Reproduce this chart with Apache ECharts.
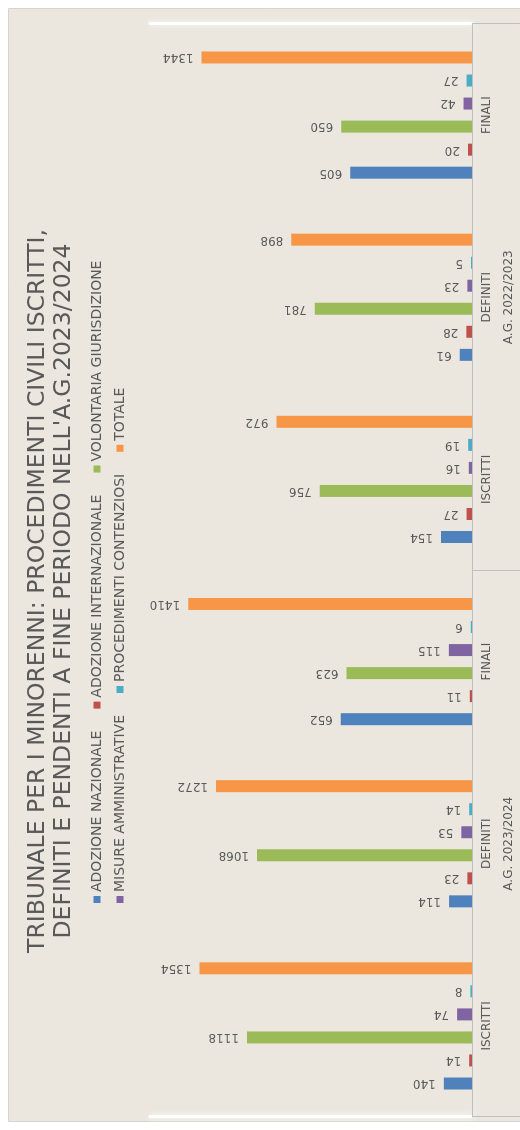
<!DOCTYPE html>
<html>
<head>
<meta charset="utf-8">
<script src="https://cdn.jsdelivr.net/npm/echarts@6/dist/echarts.min.js"></script>
<style>
  html, body { margin: 0; padding: 0; background: #ffffff; }
  #wrap { position: absolute; left: 0; top: 0; width: 520px; height: 1130px; overflow: hidden; }
  /* the chart is drawn upright (1130 x 520) and turned a quarter to the left */
  #chart { position: absolute; left: 0; top: 0; width: 1130px; height: 520px;
           transform-origin: 0 0; transform: translate(0, 1130px) rotate(-90deg); }
</style>
</head>
<body>
<div id="wrap"><div id="chart"></div></div>
<script>
const categories = ['ISCRITTI', 'DEFINITI', 'FINALI', 'ISCRITTI', 'DEFINITI', 'FINALI']
const years = ['A.G. 2023/2024', 'A.G. 2022/2023']
const seriesNames = [
  'ADOZIONE NAZIONALE', 'ADOZIONE INTERNAZIONALE', 'VOLONTARIA GIURISDIZIONE',
  'MISURE AMMINISTRATIVE', 'PROCEDIMENTI CONTENZIOSI', 'TOTALE'
]
const adozioneNazionale = [140, 114, 652, 154, 61, 605]
const adozioneInternazionale = [14, 23, 11, 27, 28, 20]
const volontariaGiurisdizione = [1118, 1068, 623, 756, 781, 650]
const misureAmministrative = [74, 53, 115, 16, 23, 42]
const procedimentiContenziosi = [8, 14, 6, 19, 5, 27]
const totale = [1354, 1272, 1410, 972, 898, 1344]
const seriesValues = [adozioneNazionale, adozioneInternazionale, volontariaGiurisdizione,
  misureAmministrative, procedimentiContenziosi, totale]
const seriesColors = ['#4f81bd', '#c0504d', '#9bbb59', '#8064a2', '#4bacc6', '#f79646']

const textColor = '#595959'
const font = 'DejaVu Sans'

const chart = echarts.init(document.getElementById('chart'), null, { renderer: 'canvas' })

const glowLine = {
  show: true,
  lineStyle: { color: 'rgba(255,255,255,0.95)', width: 3, shadowColor: '#ffffff', shadowBlur: 6 }
}

const legendBase = {
  left: 222, itemGap: 22, icon: 'rect', itemWidth: 7, itemHeight: 7,
  textStyle: { fontFamily: font, fontSize: 14, color: textColor, padding: [0, 0, 0, -1] }
}

const option = {
  backgroundColor: '#ffffff',
  animation: false,
  graphic: [{
    type: 'rect', z: -10, silent: true,
    shape: { x: 8.5, y: 8.5, width: 1113, height: 520 },
    style: { fill: '#ebe7df', stroke: '#d4d4d4', lineWidth: 1 }
  }],
  title: {
    text: 'TRIBUNALE PER I MINORENNI: PROCEDIMENTI CIVILI ISCRITTI,\nDEFINITI E PENDENTI A FINE PERIODO NELL\'A.G.2023/2024',
    left: 534, top: 20, textAlign: 'center',
    textStyle: { fontFamily: font, fontSize: 23.5, fontWeight: 'normal', color: textColor, lineHeight: 26 }
  },
  legend: [
    Object.assign({ data: seriesNames.slice(0, 3), top: 85 }, legendBase),
    Object.assign({ data: seriesNames.slice(3), top: 108 }, legendBase)
  ],
  grid: { left: 13, right: 24, top: 150, bottom: 48 },
  xAxis: [
    {
      type: 'category', data: categories, position: 'bottom',
      axisLine: { lineStyle: { color: '#bfbfbf', shadowColor: '#ffffff', shadowBlur: 6, shadowOffsetY: 3 } },
      axisTick: { show: false },
      axisLabel: { fontFamily: font, fontSize: 12, color: textColor, margin: 9 }
    },
    {
      type: 'category', data: years, position: 'bottom',
      axisLine: { show: false },
      axisTick: { show: true, length: 48, lineStyle: { color: '#bfbfbf' } },
      axisLabel: { fontFamily: font, fontSize: 12, color: textColor, margin: 31 }
    }
  ],
  yAxis: [
    {
      type: 'value', min: 0, max: 1600, position: 'left',
      axisLine: glowLine, axisTick: { show: false }, axisLabel: { show: false }, splitLine: { show: false }
    },
    {
      type: 'value', min: 0, max: 1600, position: 'right',
      axisLine: glowLine, axisTick: { show: false }, axisLabel: { show: false }, splitLine: { show: false }
    }
  ],
  series: seriesNames.map((name, i) => ({
    name,
    type: 'bar',
    xAxisIndex: 0,
    yAxisIndex: 0,
    data: seriesValues[i],
    barWidth: 12,
    barGap: '92%',
    itemStyle: { color: seriesColors[i] },
    label: {
      show: true, position: 'top', rotate: 90, align: 'left', verticalAlign: 'middle',
      distance: 8, fontFamily: font, fontSize: 12, color: textColor
    }
  }))
}

chart.setOption(option)
</script>
</body>
</html>
